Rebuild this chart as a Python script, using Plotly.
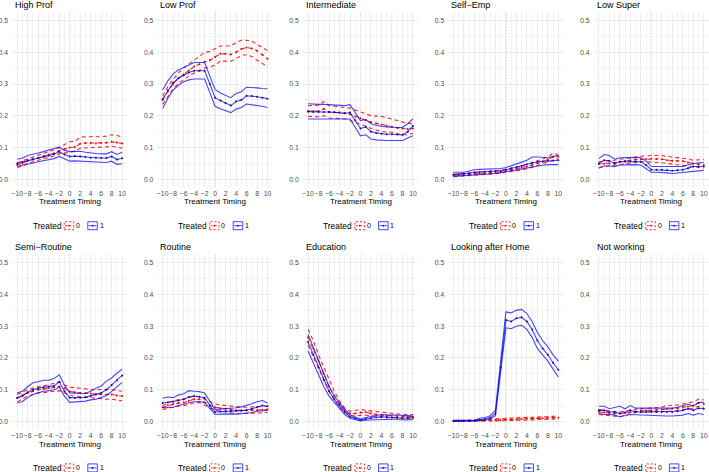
import plotly.graph_objects as go

# ---------------- data ----------------
timing = list(range(-10, 11))
x_tick_vals = [-10, -8, -6, -4, -2, 0, 2, 4, 6, 8, 10]
x_tick_text = ["\u221210", "\u22128", "\u22126", "\u22124", "\u22122", "0", "2", "4", "6", "8", "10"]
y_tick_vals = [0.0, 0.1, 0.2, 0.3, 0.4, 0.5]
y_tick_text = ["0.0", "0.1", "0.2", "0.3", "0.4", "0.5"]
panel_titles = ["High Prof", "Low Prof", "Intermediate", "Self\u2212Emp", "Low Super",
                "Semi\u2212Routine", "Routine", "Education", "Looking after Home", "Not working"]
legend_title = "Treated"
group_labels = ["0", "1"]

# High Prof
hp_t1_mean = [0.050,0.054,0.060,0.063,0.067,0.071,0.075,0.079,0.087,0.078,0.072,0.073,0.072,0.070,0.068,0.068,0.067,0.067,0.072,0.062,0.066]
hp_t1_hi = [0.063,0.067,0.075,0.078,0.083,0.087,0.091,0.095,0.101,0.091,0.087,0.088,0.088,0.085,0.082,0.081,0.080,0.080,0.087,0.078,0.085]
hp_t1_lo = [0.040,0.043,0.048,0.051,0.055,0.058,0.062,0.065,0.072,0.064,0.057,0.058,0.057,0.055,0.054,0.054,0.053,0.053,0.057,0.047,0.049]
hp_t0_mean = [0.045,0.050,0.058,0.062,0.068,0.073,0.078,0.082,0.090,0.095,0.100,0.102,0.112,0.114,0.114,0.113,0.114,0.115,0.118,0.116,0.113]
hp_t0_hi = [0.052,0.058,0.066,0.070,0.076,0.082,0.087,0.092,0.100,0.108,0.118,0.120,0.132,0.134,0.134,0.133,0.134,0.136,0.140,0.138,0.133]
hp_t0_lo = [0.037,0.042,0.050,0.054,0.060,0.065,0.069,0.073,0.080,0.083,0.087,0.088,0.098,0.100,0.100,0.100,0.100,0.102,0.104,0.102,0.098]

# Low Prof
lp_t1_mean = [0.252,0.280,0.304,0.318,0.328,0.336,0.342,0.342,0.342,0.300,0.257,0.248,0.240,0.232,0.245,0.250,0.263,0.262,0.260,0.257,0.254]
lp_t1_hi = [0.281,0.310,0.332,0.344,0.352,0.360,0.368,0.368,0.368,0.325,0.283,0.272,0.265,0.257,0.270,0.276,0.290,0.290,0.288,0.286,0.285]
lp_t1_lo = [0.223,0.255,0.281,0.296,0.307,0.313,0.316,0.316,0.316,0.273,0.230,0.222,0.215,0.210,0.221,0.226,0.237,0.235,0.233,0.230,0.226]
lp_t0_mean = [0.250,0.278,0.300,0.318,0.330,0.343,0.355,0.362,0.370,0.375,0.385,0.395,0.395,0.393,0.400,0.410,0.415,0.412,0.405,0.392,0.380]
lp_t0_hi = [0.262,0.292,0.315,0.335,0.350,0.362,0.375,0.388,0.400,0.402,0.410,0.420,0.420,0.420,0.430,0.438,0.438,0.435,0.425,0.415,0.405]
lp_t0_lo = [0.236,0.262,0.285,0.302,0.315,0.325,0.335,0.342,0.350,0.353,0.360,0.372,0.373,0.372,0.380,0.390,0.392,0.387,0.375,0.365,0.355]

# Intermediate
im_t1_mean = [0.213,0.212,0.212,0.212,0.212,0.211,0.210,0.208,0.210,0.186,0.160,0.165,0.150,0.146,0.143,0.142,0.142,0.141,0.140,0.150,0.168]
im_t1_hi = [0.238,0.236,0.236,0.236,0.235,0.234,0.233,0.232,0.235,0.210,0.185,0.188,0.175,0.170,0.166,0.165,0.163,0.163,0.163,0.175,0.190]
im_t1_lo = [0.190,0.190,0.190,0.190,0.190,0.189,0.189,0.188,0.190,0.163,0.137,0.140,0.127,0.124,0.122,0.122,0.122,0.122,0.122,0.130,0.137]
im_t0_mean = [0.215,0.215,0.215,0.222,0.212,0.211,0.210,0.208,0.205,0.198,0.192,0.186,0.180,0.176,0.172,0.168,0.165,0.162,0.160,0.158,0.160]
im_t0_hi = [0.232,0.232,0.233,0.245,0.232,0.230,0.228,0.226,0.224,0.218,0.212,0.205,0.200,0.199,0.198,0.194,0.190,0.185,0.180,0.176,0.175]
im_t0_lo = [0.198,0.198,0.197,0.200,0.193,0.192,0.192,0.190,0.186,0.180,0.175,0.167,0.160,0.155,0.150,0.149,0.148,0.144,0.140,0.140,0.145]

# Self-Emp
se_t1_mean = [0.015,0.016,0.017,0.019,0.022,0.023,0.024,0.025,0.025,0.027,0.030,0.034,0.038,0.042,0.047,0.052,0.055,0.056,0.058,0.059,0.060]
se_t1_hi = [0.022,0.022,0.022,0.026,0.030,0.031,0.032,0.032,0.032,0.034,0.037,0.042,0.048,0.054,0.060,0.070,0.070,0.068,0.068,0.072,0.075]
se_t1_lo = [0.009,0.010,0.012,0.013,0.015,0.015,0.016,0.017,0.018,0.021,0.024,0.027,0.030,0.033,0.036,0.040,0.042,0.044,0.046,0.046,0.046]
se_t0_mean = [0.012,0.013,0.014,0.015,0.017,0.018,0.019,0.020,0.022,0.024,0.027,0.030,0.033,0.036,0.040,0.045,0.050,0.056,0.062,0.070,0.072]
se_t0_hi = [0.016,0.017,0.018,0.020,0.022,0.023,0.024,0.025,0.027,0.029,0.032,0.035,0.038,0.042,0.046,0.052,0.058,0.064,0.070,0.082,0.078]
se_t0_lo = [0.008,0.009,0.010,0.011,0.012,0.013,0.014,0.015,0.017,0.019,0.022,0.024,0.026,0.029,0.033,0.038,0.043,0.048,0.054,0.060,0.065]

# Low Super
ls_t1_mean = [0.050,0.060,0.058,0.050,0.055,0.056,0.057,0.056,0.055,0.045,0.030,0.030,0.030,0.028,0.027,0.028,0.030,0.035,0.040,0.040,0.040]
ls_t1_hi = [0.065,0.078,0.075,0.063,0.068,0.069,0.070,0.069,0.068,0.058,0.040,0.040,0.040,0.039,0.038,0.039,0.040,0.046,0.050,0.052,0.053]
ls_t1_lo = [0.035,0.042,0.042,0.040,0.045,0.046,0.047,0.046,0.045,0.033,0.022,0.022,0.022,0.020,0.018,0.020,0.022,0.024,0.026,0.027,0.028]
ls_t0_mean = [0.048,0.049,0.050,0.052,0.055,0.058,0.060,0.062,0.063,0.064,0.065,0.064,0.063,0.060,0.058,0.058,0.057,0.053,0.050,0.047,0.045]
ls_t0_hi = [0.055,0.056,0.058,0.060,0.063,0.066,0.068,0.070,0.072,0.074,0.075,0.075,0.075,0.072,0.070,0.069,0.068,0.064,0.060,0.062,0.062]
ls_t0_lo = [0.038,0.040,0.042,0.044,0.047,0.050,0.052,0.054,0.055,0.055,0.055,0.053,0.052,0.050,0.048,0.046,0.045,0.042,0.040,0.037,0.035]

# Semi-Routine
sr_t1_mean = [0.074,0.080,0.092,0.100,0.105,0.108,0.110,0.112,0.125,0.095,0.075,0.074,0.075,0.076,0.080,0.085,0.090,0.100,0.115,0.130,0.145]
sr_t1_hi = [0.090,0.095,0.110,0.122,0.125,0.130,0.130,0.135,0.147,0.115,0.090,0.088,0.088,0.088,0.095,0.105,0.112,0.127,0.137,0.152,0.165]
sr_t1_lo = [0.058,0.063,0.075,0.085,0.090,0.095,0.097,0.100,0.108,0.080,0.060,0.061,0.062,0.064,0.068,0.070,0.075,0.082,0.095,0.110,0.123]
sr_t0_mean = [0.075,0.083,0.090,0.095,0.100,0.102,0.105,0.108,0.110,0.105,0.095,0.092,0.090,0.089,0.088,0.086,0.085,0.085,0.085,0.082,0.080]
sr_t0_hi = [0.085,0.093,0.100,0.105,0.110,0.112,0.115,0.120,0.125,0.115,0.108,0.107,0.106,0.103,0.100,0.101,0.102,0.101,0.100,0.098,0.095]
sr_t0_lo = [0.062,0.072,0.080,0.085,0.090,0.091,0.093,0.095,0.097,0.090,0.082,0.080,0.078,0.076,0.075,0.072,0.070,0.070,0.070,0.068,0.065]

# Routine
rt_t1_mean = [0.058,0.060,0.062,0.066,0.070,0.077,0.080,0.078,0.075,0.050,0.030,0.031,0.032,0.033,0.033,0.034,0.035,0.040,0.045,0.050,0.048]
rt_t1_hi = [0.073,0.077,0.075,0.083,0.087,0.097,0.095,0.094,0.090,0.065,0.038,0.039,0.040,0.042,0.043,0.046,0.050,0.056,0.062,0.066,0.058]
rt_t1_lo = [0.044,0.044,0.045,0.050,0.055,0.059,0.062,0.063,0.060,0.040,0.022,0.023,0.024,0.024,0.023,0.024,0.025,0.028,0.032,0.034,0.035]
rt_t0_mean = [0.045,0.050,0.055,0.058,0.060,0.065,0.070,0.070,0.060,0.050,0.045,0.042,0.040,0.038,0.035,0.035,0.035,0.035,0.035,0.037,0.038]
rt_t0_hi = [0.050,0.058,0.065,0.068,0.070,0.075,0.080,0.078,0.070,0.062,0.055,0.052,0.050,0.048,0.045,0.045,0.045,0.045,0.045,0.047,0.048]
rt_t0_lo = [0.038,0.042,0.045,0.048,0.050,0.055,0.058,0.060,0.050,0.042,0.035,0.032,0.030,0.028,0.025,0.025,0.025,0.025,0.025,0.027,0.028]

# Education
ed_t1_mean = [0.250,0.210,0.170,0.130,0.095,0.070,0.050,0.030,0.015,0.010,0.005,0.008,0.010,0.013,0.015,0.014,0.012,0.011,0.010,0.011,0.012]
ed_t1_hi = [0.275,0.235,0.190,0.150,0.110,0.080,0.058,0.038,0.020,0.015,0.008,0.012,0.015,0.020,0.022,0.021,0.020,0.019,0.018,0.018,0.018]
ed_t1_lo = [0.222,0.185,0.150,0.110,0.080,0.060,0.040,0.022,0.010,0.005,0.002,0.004,0.005,0.007,0.008,0.007,0.006,0.005,0.005,0.005,0.006]
ed_t0_mean = [0.265,0.230,0.190,0.150,0.110,0.080,0.055,0.035,0.025,0.025,0.028,0.030,0.025,0.022,0.020,0.019,0.018,0.016,0.015,0.015,0.015]
ed_t0_hi = [0.290,0.255,0.210,0.170,0.130,0.095,0.065,0.042,0.032,0.035,0.038,0.035,0.033,0.030,0.028,0.026,0.025,0.023,0.022,0.022,0.022]
ed_t0_lo = [0.240,0.205,0.165,0.130,0.095,0.068,0.045,0.028,0.018,0.018,0.020,0.020,0.018,0.015,0.013,0.012,0.012,0.011,0.010,0.010,0.010]

# Looking after Home
lh_t1_mean = [0.002,0.002,0.002,0.002,0.002,0.005,0.007,0.012,0.025,0.170,0.320,0.315,0.325,0.328,0.315,0.290,0.255,0.230,0.210,0.185,0.163]
lh_t1_hi = [0.004,0.004,0.004,0.004,0.004,0.010,0.012,0.018,0.035,0.190,0.345,0.342,0.350,0.353,0.340,0.315,0.280,0.255,0.235,0.210,0.190]
lh_t1_lo = [0.001,0.001,0.001,0.001,0.001,0.003,0.004,0.008,0.018,0.150,0.295,0.292,0.300,0.303,0.290,0.265,0.230,0.210,0.190,0.165,0.140]
lh_t0_mean = [0.001,0.001,0.002,0.002,0.002,0.003,0.004,0.004,0.005,0.005,0.006,0.006,0.007,0.008,0.009,0.009,0.010,0.010,0.011,0.012,0.012]
lh_t0_hi = [0.003,0.003,0.004,0.005,0.005,0.006,0.007,0.008,0.008,0.009,0.010,0.010,0.011,0.012,0.013,0.013,0.014,0.015,0.016,0.017,0.017]
lh_t0_lo = [0.000,0.000,0.000,0.000,0.000,0.001,0.001,0.001,0.002,0.002,0.003,0.003,0.004,0.004,0.005,0.005,0.006,0.006,0.007,0.007,0.008]

# Not working
nw_t1_mean = [0.035,0.035,0.030,0.030,0.025,0.028,0.035,0.030,0.030,0.030,0.030,0.030,0.030,0.030,0.030,0.032,0.035,0.040,0.035,0.042,0.040]
nw_t1_hi = [0.048,0.048,0.040,0.045,0.048,0.040,0.050,0.042,0.042,0.041,0.040,0.040,0.040,0.041,0.042,0.045,0.050,0.055,0.048,0.060,0.060]
nw_t1_lo = [0.025,0.022,0.022,0.020,0.015,0.018,0.022,0.021,0.020,0.019,0.018,0.018,0.017,0.017,0.017,0.018,0.020,0.025,0.020,0.025,0.022]
nw_t0_mean = [0.030,0.028,0.025,0.025,0.025,0.027,0.030,0.032,0.035,0.035,0.035,0.037,0.038,0.039,0.040,0.042,0.045,0.047,0.050,0.058,0.055]
nw_t0_hi = [0.038,0.035,0.032,0.031,0.030,0.033,0.037,0.039,0.040,0.041,0.042,0.044,0.045,0.050,0.050,0.052,0.055,0.058,0.062,0.070,0.068]
nw_t0_lo = [0.022,0.020,0.018,0.016,0.015,0.020,0.025,0.028,0.030,0.030,0.030,0.031,0.032,0.032,0.032,0.035,0.037,0.040,0.042,0.048,0.045]

panel_series = [
    ((hp_t0_lo, hp_t0_mean, hp_t0_hi), (hp_t1_lo, hp_t1_mean, hp_t1_hi)),
    ((lp_t0_lo, lp_t0_mean, lp_t0_hi), (lp_t1_lo, lp_t1_mean, lp_t1_hi)),
    ((im_t0_lo, im_t0_mean, im_t0_hi), (im_t1_lo, im_t1_mean, im_t1_hi)),
    ((se_t0_lo, se_t0_mean, se_t0_hi), (se_t1_lo, se_t1_mean, se_t1_hi)),
    ((ls_t0_lo, ls_t0_mean, ls_t0_hi), (ls_t1_lo, ls_t1_mean, ls_t1_hi)),
    ((sr_t0_lo, sr_t0_mean, sr_t0_hi), (sr_t1_lo, sr_t1_mean, sr_t1_hi)),
    ((rt_t0_lo, rt_t0_mean, rt_t0_hi), (rt_t1_lo, rt_t1_mean, rt_t1_hi)),
    ((ed_t0_lo, ed_t0_mean, ed_t0_hi), (ed_t1_lo, ed_t1_mean, ed_t1_hi)),
    ((lh_t0_lo, lh_t0_mean, lh_t0_hi), (lh_t1_lo, lh_t1_mean, lh_t1_hi)),
    ((nw_t0_lo, nw_t0_mean, nw_t0_hi), (nw_t1_lo, nw_t1_mean, nw_t1_hi)),
]

# ---------------- layout / styling ----------------
W, H = 709, 472
FONT = "Liberation Sans, Arial, Helvetica, sans-serif"
COL_LEFT = [12.0 + i * 145.4 for i in range(5)]
PLOT_W = 115.4
ROW_TOP = [12.6, 254.8]
PLOT_H = 174.6
GROUP_STYLE = [
    dict(color="rgba(255,0,0,0.85)", dash="4px,3px", marker="#d01010"),
    dict(color="rgba(0,0,255,0.72)", dash="solid", marker="#10108a"),
]
GRID = "#ebebeb"


def px(xp):
    return xp / W


def py(yp):
    return 1 - yp / H


fig = go.Figure()
annotations = []
shapes = []

for i, (title, series) in enumerate(zip(panel_titles, panel_series)):
    r, c = divmod(i, 5)
    n = "" if i == 0 else str(i + 1)
    left = COL_LEFT[c]
    top = ROW_TOP[r]
    bottom = top + PLOT_H
    for g, (lo, mean, hi) in enumerate(series):
        st = GROUP_STYLE[g]
        for arr in (hi, lo):
            fig.add_trace(go.Scatter(
                x=timing, y=arr, mode="lines", xaxis="x" + n, yaxis="y" + n,
                line=dict(color=st["color"], width=1.1, dash=st["dash"]),
                showlegend=False, hoverinfo="skip"))
        fig.add_trace(go.Scatter(
            x=timing, y=mean, mode="lines+markers", xaxis="x" + n, yaxis="y" + n,
            line=dict(color=st["color"], width=1.1, dash=st["dash"]),
            marker=dict(color=st["marker"], size=2.0),
            showlegend=False, hoverinfo="skip"))

    fig.update_layout(**{
        "xaxis" + n: dict(
            domain=[px(left), min(1.0, px(left + PLOT_W))], anchor="y" + n,
            range=[-11, 11], tickvals=x_tick_vals, ticktext=x_tick_text, tickangle=0,
            showgrid=True, gridcolor=GRID, gridwidth=0.8, zeroline=False, showline=False,
            ticks="", ticklabelstandoff=1,
            tickfont=dict(family=FONT, size=6.8, color="#4d4d4d"),
            minor=dict(tickvals=list(range(-11, 12, 2)), showgrid=True, gridcolor="#f3f3f3", gridwidth=0.6),
            fixedrange=True),
        "yaxis" + n: dict(
            domain=[py(bottom), py(top)], anchor="x" + n,
            range=[-0.025, 0.525], tickvals=y_tick_vals, ticktext=y_tick_text,
            showgrid=True, gridcolor=GRID, gridwidth=0.8, zeroline=False, showline=False,
            ticks="", ticklabelstandoff=3,
            tickfont=dict(family=FONT, size=6.8, color="#4d4d4d"),
            minor=dict(tickvals=[0.05, 0.15, 0.25, 0.35, 0.45], showgrid=True, gridcolor="#f3f3f3", gridwidth=0.6),
            fixedrange=True),
    })

    # vertical dotted reference line at x = 0
    shapes.append(dict(type="line", xref="x" + n, yref="y" + n + " domain",
                       x0=0, x1=0, y0=0, y1=1, layer="below",
                       line=dict(color="#7f7f7f", width=1, dash="1px,2px")))

    # panel title
    annotations.append(dict(text=title, x=px(left + 1), y=py(top - 8), xref="paper", yref="paper",
                            xanchor="left", yanchor="middle", showarrow=False,
                            font=dict(family=FONT, size=9, color="black")))
    # axis title
    annotations.append(dict(text="Treatment Timing", x=px(left + PLOT_W / 2), y=py(bottom + 14.6),
                            xref="paper", yref="paper", xanchor="center", yanchor="middle",
                            showarrow=False, font=dict(family=FONT, size=8, color="black")))
    # legend
    ly = bottom + 38.5
    annotations.append(dict(text=legend_title, x=px(left + 50.5), y=py(ly), xref="paper", yref="paper",
                            xanchor="right", yanchor="middle", showarrow=False, borderpad=0,
                            font=dict(family=FONT, size=8.4, color="black")))
    key_left = [left + 52.2, left + 75.8]
    for g, kx in enumerate(key_left):
        st = GROUP_STYLE[g]
        shapes.append(dict(type="rect", xref="paper", yref="paper",
                           x0=px(kx), x1=px(kx + 9.5), y0=py(ly + 4), y1=py(ly - 4),
                           line=dict(color=st["color"], width=1, dash="2px,2px" if g == 0 else "solid"),
                           fillcolor="white"))
        shapes.append(dict(type="line", xref="paper", yref="paper",
                           x0=px(kx + 1), x1=px(kx + 8.5), y0=py(ly), y1=py(ly),
                           line=dict(color=st["color"], width=1, dash="2px,2px" if g == 0 else "solid")))
        shapes.append(dict(type="circle", xref="paper", yref="paper",
                           x0=px(kx + 3.9), x1=px(kx + 5.6), y0=py(ly + 0.85), y1=py(ly - 0.85),
                           line=dict(width=0), fillcolor=st["marker"]))
        annotations.append(dict(text=group_labels[g], x=px(kx + 13.8), y=py(ly), xref="paper", yref="paper",
                                xanchor="center", yanchor="middle", showarrow=False, borderpad=0,
                                font=dict(family=FONT, size=7, color="black")))

fig.update_layout(
    width=W, height=H, margin=dict(l=0, r=0, t=0, b=0),
    paper_bgcolor="white", plot_bgcolor="white",
    showlegend=False, annotations=annotations, shapes=shapes,
    font=dict(family=FONT),
)

fig.write_html("out.html")
